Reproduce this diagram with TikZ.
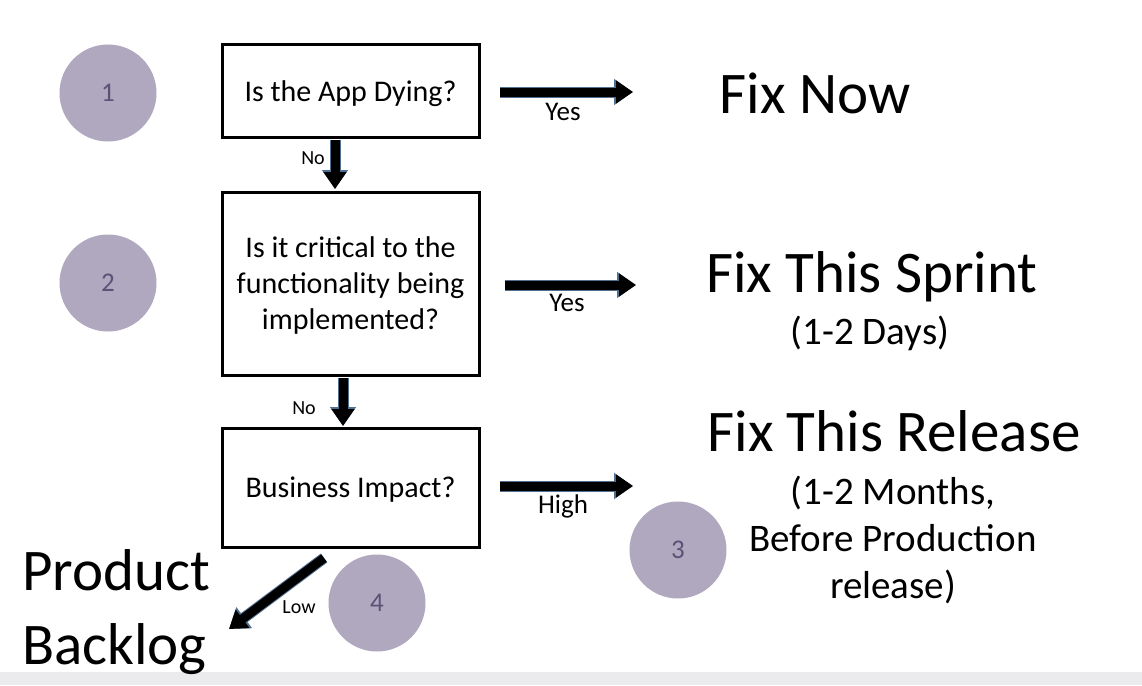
\documentclass[tikz,border=0pt]{standalone}
\usepackage{fontspec}
\setmainfont{Carlito}
\usetikzlibrary{arrows.meta}
\definecolor{circ}{HTML}{B0A8BF}
\definecolor{circtxt}{HTML}{5C5277}
\definecolor{edge}{HTML}{4F7090}
\definecolor{strip}{HTML}{EBEAED}
\begin{document}
\begin{tikzpicture}[x=1pt,y=-1pt,
  box/.style={draw=black,line width=3pt,minimum width=257pt,inner sep=0pt,align=center,text depth=0pt,font=\fontsize{30}{36}\selectfont},
  num/.style={circle,fill=circ,minimum size=97pt,inner sep=0pt,text=circtxt,font=\fontsize{27}{32}\selectfont},
  big/.style={align=center,inner sep=0pt,font=\fontsize{59}{72}\selectfont},
  sub/.style={align=center,inner sep=0pt,font=\fontsize{39}{47}\selectfont},
  lbl/.style={inner sep=0pt,font=\fontsize{27}{32}\selectfont},
  slbl/.style={inner sep=0pt,font=\fontsize{20}{24}\selectfont},
  fat/.style={line width=9pt,draw=black,-{Triangle[length=17pt,width=22pt]},
    preaction={draw=edge,line width=11pt,-{Triangle[length=19pt,width=25pt]}}}]
\fill[white] (0,0) rectangle (1142,685);
\fill[strip] (0,672) rectangle (1142,685);
% circles
\node[num] (c1) at (108,93) {1};
\node[num] (c2) at (108,283) {2};
\node[num] (c3) at (678,550) {3};
\node[num] (c4) at (377,603) {4};
% boxes
\node[box,minimum height=92pt] (b1) at (350.5,91) {Is the App Dying?};
\node[box,minimum height=183pt] (b2) at (350.5,283.5) {Is it critical to the\\functionality being\\implemented?};
\node[box,minimum height=119pt] (b3) at (350.5,487.5) {Business Impact?};
% outcomes
\node[big,anchor=base] (t1) at (815,113) {Fix Now};
\node[big,anchor=base] (t2) at (872,292) {Fix This Sprint};
\node[sub,anchor=base] (t2s) at (870,344) {(1-2 Days)};
\node[big,anchor=base] (t3) at (894,451) {Fix This Release};
\node[sub,anchor=base] (t3s) at (893,598) {(1-2 Months,\\Before Production\\release)};
\node[big,anchor=base west] (t4) at (22,590) {Product};
\node[big,anchor=base west] (t4b) at (22,664) {Backlog};
% arrow coordinates
\coordinate (a1s) at (500,92); \coordinate (a1e) at (633,92);
\coordinate (a2s) at (505,285); \coordinate (a2e) at (636,285);
\coordinate (a3s) at (500,486); \coordinate (a3e) at (633,486);
\coordinate (d1s) at (335,140); \coordinate (d1e) at (335,189);
\coordinate (d2s) at (343,378); \coordinate (d2e) at (343,426);
\coordinate (l1s) at (324,558); \coordinate (l1e) at (229,629);
\draw[fat] (a1s) -- (a1e);
\draw[fat] (a2s) -- (a2e);
\draw[fat] (a3s) -- (a3e);
\draw[fat] (d1s) -- (d1e);
\draw[fat] (d2s) -- (d2e);
\draw[fat] (l1s) -- (l1e);
% labels
\node[lbl] (y1) at (563,112) {Yes};
\node[lbl] (y2) at (567,303) {Yes};
\node[lbl] (h3) at (563,506) {High};
\node[slbl] (n1) at (313,158) {No};
\node[slbl] (n2) at (304,408) {No};
\node[slbl] (lw) at (299,607) {Low};
\end{tikzpicture}
\end{document}
